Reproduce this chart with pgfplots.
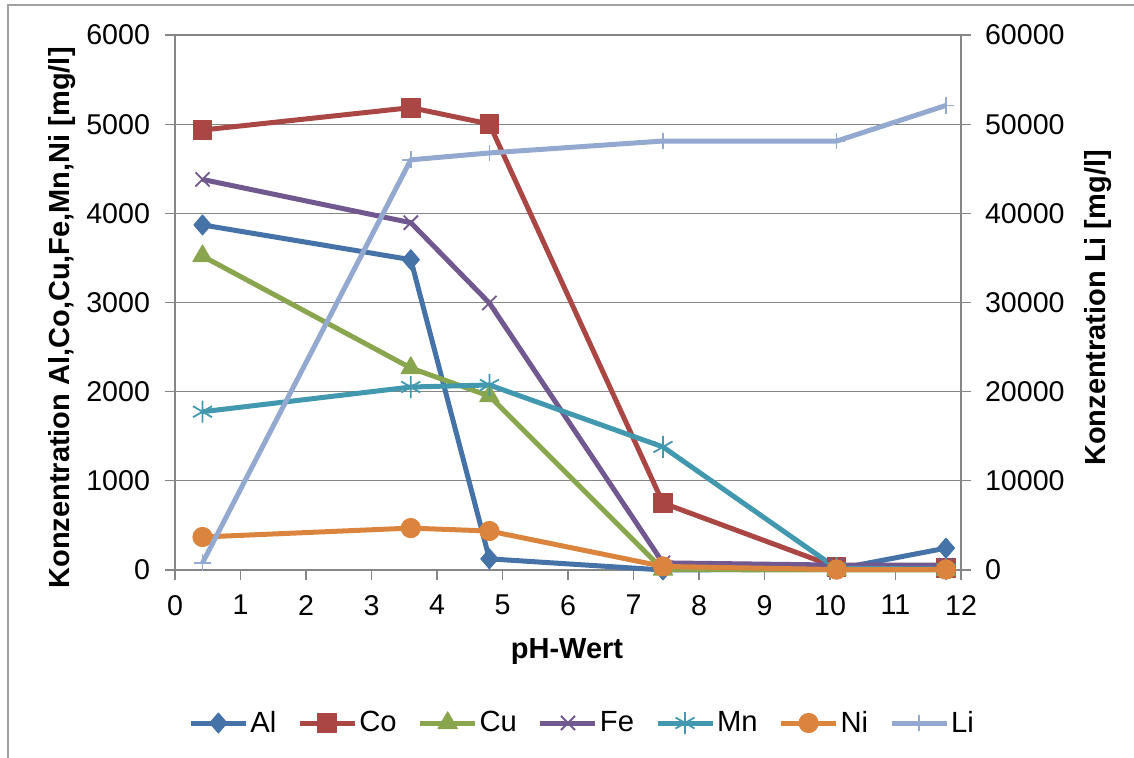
\documentclass[border=0pt]{standalone}
\usepackage{fontspec}
\setmainfont{Liberation Sans}
\usepackage{pgfplots}
\pgfplotsset{compat=1.18}
\definecolor{cAl}{HTML}{4572A7}
\definecolor{cCo}{HTML}{AA4643}
\definecolor{cCu}{HTML}{89A54E}
\definecolor{cFe}{HTML}{71588F}
\definecolor{cMn}{HTML}{4198AF}
\definecolor{cNi}{HTML}{DB843D}
\definecolor{cLi}{HTML}{93A9CF}
\definecolor{gridgray}{HTML}{868686}
\definecolor{framegray}{HTML}{A0A0A0}
\pgfplotsset{
  base/.style={
    scale only axis, width=393pt, height=267.5pt,
    at={(0pt,0pt)}, anchor=south west,
    xmin=0, xmax=12,
    font=\fontsize{14.3}{17}\selectfont,
    tick label style={font=\fontsize{14.3}{17}\selectfont},
    /pgf/number format/assume math mode=true,
    /pgf/number format/set thousands separator={},
    scaled y ticks=false,
    tick align=outside, major tick length=5pt,
    tick style={color=gridgray, line width=0.6pt},
    axis line style={gridgray, line width=0.6pt},
    clip=false,
  },
  sAl/.style={cAl, line width=2.5pt, line join=round, mark=diamond*, mark size=5pt, mark options={solid, xscale=1.15, fill=cAl, draw=cAl, line width=0.5pt}},
  sCo/.style={cCo, line width=2.5pt, line join=round, mark=square*, mark size=4.7pt, mark options={solid, fill=cCo, draw=cCo, line width=0.5pt}},
  sCu/.style={cCu, line width=2.5pt, line join=round, mark=triangle*, mark size=5.6pt, mark options={solid, fill=cCu, draw=cCu, line width=0.5pt}},
  sFe/.style={cFe, line width=2.5pt, line join=round, mark=x, mark size=5pt, mark options={solid, draw=cFe, line width=0.9pt}},
  sMn/.style={cMn, line width=2.5pt, line join=round, mark=asterisk, mark size=5.5pt, mark options={solid, draw=cMn, line width=0.9pt}},
  sNi/.style={cNi, line width=2.5pt, line join=round, mark=*, mark size=4.8pt, mark options={solid, fill=cNi, draw=cNi, line width=0.5pt}},
  sLi/.style={cLi, line width=2.5pt, line join=round, mark=+, mark size=4.2pt, mark options={solid, draw=cLi, line width=0.9pt}},
}
\begin{document}
\begin{tikzpicture}
\path[use as bounding box] (-87.5pt,-94pt) rectangle (479.5pt,285pt);
\draw[framegray, line width=1pt] (-83.5pt,-100pt) -- (-83.5pt,282.5pt) -- (490pt,282.5pt);
\begin{axis}[base,
  ymin=0, ymax=6000, ytick={0,1000,...,6000},
  xtick={0,1,...,12},
  axis x line*=bottom, axis y line*=left,
  ymajorgrids, grid style={gridgray, line width=0.6pt},
  yticklabel style={xshift=-4pt},
  xticklabel style={yshift=-4pt},
]
\addplot[sAl] coordinates {(0.42,3870) (3.6,3480) (4.8,125) (7.45,0) (10.1,10) (11.77,245)};
\addplot[sCo] coordinates {(0.42,4934) (3.6,5185) (4.8,5002) (7.45,751) (10.1,30) (11.77,20)};
\addplot[sCu] coordinates {(0.42,3520) (3.6,2265) (4.8,1950) (7.45,5) (10.1,0) (11.77,0)};
\addplot[sFe] coordinates {(0.42,4380) (3.6,3895) (4.8,2994) (7.45,80) (10.1,55) (11.77,55)};
\addplot[sMn] coordinates {(0.42,1775) (3.6,2052) (4.8,2075) (7.45,1380) (10.1,20) (11.77,10)};
\addplot[sNi] coordinates {(0.42,370) (3.6,470) (4.8,437) (7.45,40) (10.1,5) (11.77,5)};
\end{axis}
\begin{axis}[base,
  ymin=0, ymax=60000, ytick={0,10000,...,60000},
  axis x line=none, axis y line*=right,
  yticklabel style={xshift=3.5pt},
  legend columns=7,
  legend style={draw=none, fill=none, at={(0.518,-0.286)}, anchor=center,
    font=\fontsize{14.6}{17}\selectfont,
    nodes={inner xsep=1pt},
    /tikz/every even column/.append style={column sep=9.5pt},
    inner sep=0pt},
  legend image code/.code={\draw[mark repeat=2,mark phase=2] plot coordinates {(0pt,0pt) (13.75pt,0pt) (27.5pt,0pt)};},
]
\addlegendimage{sAl}\addlegendentry{Al}
\addlegendimage{sCo}\addlegendentry{Co}
\addlegendimage{sCu}\addlegendentry{Cu}
\addlegendimage{sFe}\addlegendentry{Fe}
\addlegendimage{sMn}\addlegendentry{Mn}
\addlegendimage{sNi}\addlegendentry{Ni}
\addplot[sLi] coordinates {(0.42,800) (3.6,46000) (4.8,46770) (7.45,48110) (10.1,48100) (11.77,52100)};
\addlegendentry{Li}
\end{axis}
\node[rotate=90, font=\fontsize{14.5}{17}\selectfont\bfseries] at (-56.5pt,126pt) {Konzentration Al,Co,Cu,Fe,Mn,Ni [mg/l]};
\node[rotate=90, font=\fontsize{14.5}{17}\selectfont\bfseries] at (461.5pt,131pt) {Konzentration Li [mg/l]};
\node[font=\fontsize{14.5}{17}\selectfont\bfseries] at (196pt,-41pt) {pH-Wert};
\end{tikzpicture}
\end{document}
